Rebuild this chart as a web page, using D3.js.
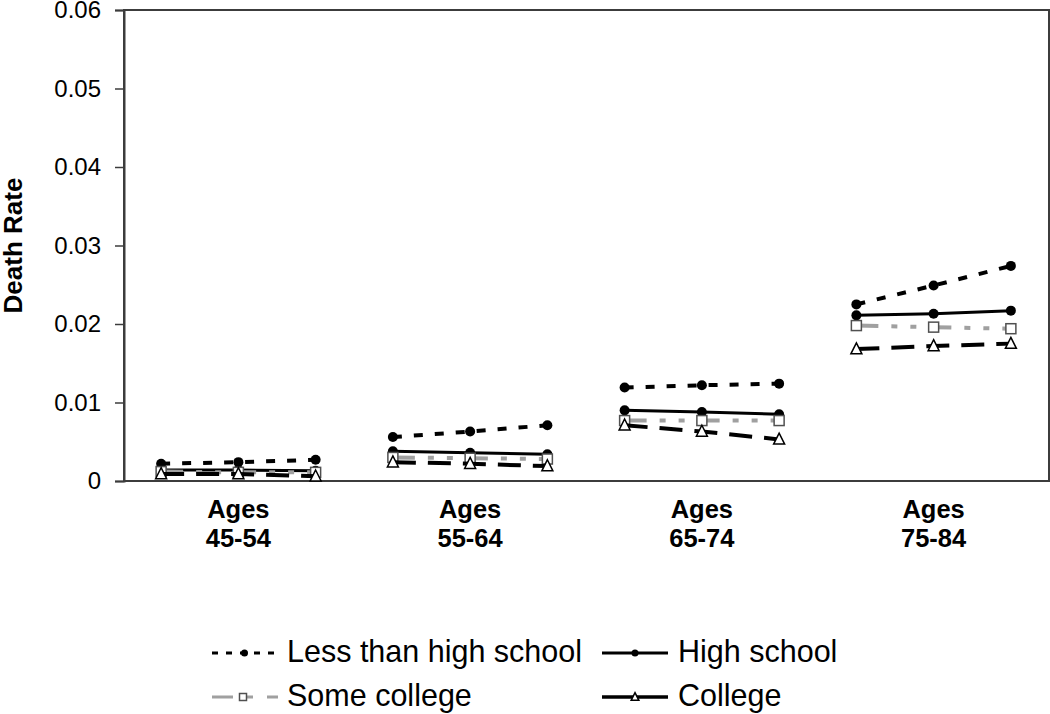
<!DOCTYPE html>
<html>
<head>
<meta charset="utf-8">
<script src="https://cdn.jsdelivr.net/npm/d3@7"></script>
<style>
  html, body { margin: 0; padding: 0; background: #fff; }
  svg { display: block; font-family: "Liberation Sans", Arial, sans-serif; }
</style>
</head>
<body>
<svg id="chart" width="1050" height="714"></svg>
<script>
// ---- data ----
const ageGroups = ["Ages 45-54", "Ages 55-64", "Ages 65-74", "Ages 75-84"];
const periods = ["Period 1", "Period 2", "Period 3"];
const yTicks = [0, 0.01, 0.02, 0.03, 0.04, 0.05, 0.06];
const yTickLabels = ["0", "0.01", "0.02", "0.03", "0.04", "0.05", "0.06"];
const seriesNames = ["Less than high school", "High school", "Some college", "College"];

// values listed group by group, three periods each
const lessThanHighSchool = [0.0022, 0.0024, 0.0027, 0.0056, 0.0063, 0.0071, 0.0119, 0.0122, 0.0124, 0.0225, 0.0249, 0.0274];
const highSchool         = [0.0014, 0.0014, 0.0013, 0.0038, 0.0036, 0.0034, 0.0090, 0.0088, 0.0085, 0.0211, 0.0213, 0.0217];
const someCollege        = [0.0012, 0.0011, 0.0011, 0.0030, 0.0029, 0.0028, 0.0077, 0.0077, 0.0077, 0.0198, 0.0196, 0.0194];
const college            = [0.0009, 0.0009, 0.0006, 0.0024, 0.0022, 0.0019, 0.0071, 0.0063, 0.0053, 0.0168, 0.0172, 0.0175];

// ---- styles ----
const styles = [
  { values: lessThanHighSchool, color: "#000", width: 4, dash: "9,12", legendDash: "6,8", legendWidth: 3, marker: "circle" },
  { values: highSchool,         color: "#000", width: 3, dash: null,  legendDash: null, legendWidth: 3, marker: "circle" },
  { values: someCollege,        color: "#a0a0a0", width: 4, dash: "22,13,6,13,6,13", legendDash: "21,14,6,14", legendWidth: 3, marker: "square" },
  { values: college,            color: "#000", width: 4, dash: "23,12", legendDash: null, legendWidth: 3.5, marker: "triangle" }
];

const svg = d3.select("#chart");
const pLeft = 124, pRight = 1049, pTop = 10, pBottom = 481;
const font = "'Liberation Sans', Arial, sans-serif";

const y = d3.scaleLinear().domain([0, 0.06]).range([pBottom, pTop]);
const xGroup = d3.scaleBand().domain(ageGroups).range([122.5, 1049.5]);
const xInner = d3.scalePoint().domain(periods).range([0, xGroup.bandwidth()]).padding(0.5);

// frame
svg.append("rect")
  .attr("x", pLeft).attr("y", pTop)
  .attr("width", pRight - pLeft).attr("height", pBottom - pTop)
  .attr("fill", "none").attr("stroke", "#3c3c3c").attr("stroke-width", 2);

// y axis
const yAxis = d3.axisLeft(y).tickValues(yTicks)
  .tickFormat((d, i) => yTickLabels[i]).tickSize(9).tickPadding(14);
const yg = svg.append("g").attr("transform", `translate(${pLeft},0)`).call(yAxis);
yg.select(".domain").attr("stroke", "#3c3c3c").attr("stroke-width", 2);
yg.selectAll(".tick line").attr("stroke", "#3c3c3c").attr("stroke-width", 1.5);
yg.selectAll(".tick text").attr("font-size", 24).attr("font-family", font).attr("fill", "#000");

// y title
svg.append("text")
  .attr("transform", `translate(22,${(pTop + pBottom) / 2}) rotate(-90)`)
  .attr("text-anchor", "middle")
  .attr("font-size", 26).attr("font-weight", "bold").attr("font-family", font)
  .text("Death Rate");

// x category labels
ageGroups.forEach(g => {
  const parts = g.split(" ");
  const cx = xGroup(g) + xGroup.bandwidth() / 2;
  const t = svg.append("text").attr("text-anchor", "middle")
    .attr("font-size", 25.5).attr("font-weight", "bold").attr("font-family", font);
  t.append("tspan").attr("x", cx).attr("y", 518).text(parts[0]);
  t.append("tspan").attr("x", cx).attr("y", 547).text(parts[1]);
});

const line = d3.line().x(d => d.x).y(d => d.y);

function drawMarker(g, type, cx, cy, scale) {
  if (type === "circle") {
    g.append("circle").attr("cx", cx).attr("cy", cy).attr("r", 5 * scale).attr("fill", "#000");
  } else if (type === "square") {
    const s = 10 * scale;
    g.append("rect").attr("x", cx - s / 2).attr("y", cy - s / 2).attr("width", s).attr("height", s)
      .attr("fill", "#fff").attr("stroke", "#505050").attr("stroke-width", 1.5);
  } else {
    const w = 11 * scale, h = 10.5 * scale;
    g.append("path")
      .attr("d", `M${cx},${cy - h * 0.6}L${cx + w / 2},${cy + h * 0.45}L${cx - w / 2},${cy + h * 0.45}Z`)
      .attr("fill", "#fff").attr("stroke", "#000").attr("stroke-width", 1.5).attr("stroke-linejoin", "miter");
  }
}

// series
const plot = svg.append("g");
styles.forEach(s => {
  const sg = plot.append("g");
  ageGroups.forEach((g, gi) => {
    const pts = periods.map((p, pi) => ({ x: xGroup(g) + xInner(p), y: y(s.values[gi * 3 + pi]) }));
    sg.append("path").attr("d", line(pts)).attr("fill", "none")
      .attr("stroke", s.color).attr("stroke-width", s.width)
      .attr("stroke-dasharray", s.dash);
    pts.forEach(pt => drawMarker(sg, s.marker, pt.x, pt.y, 1));
  });
});

// legend
const legendPos = [
  { x1: 212, x2: 278, ly: 653, tx: 287, ty: 662 },
  { x1: 602, x2: 668, ly: 653, tx: 678, ty: 662 },
  { x1: 212, x2: 278, ly: 697, tx: 287, ty: 706 },
  { x1: 602, x2: 668, ly: 697, tx: 678, ty: 706 }
];
const markerOffset = [-0.5, 0, -2, 0];
styles.forEach((s, i) => {
  const p = legendPos[i];
  const lg = svg.append("g");
  lg.append("line").attr("x1", p.x1).attr("x2", p.x2).attr("y1", p.ly).attr("y2", p.ly)
    .attr("stroke", s.color).attr("stroke-width", s.legendWidth)
    .attr("stroke-dasharray", s.legendDash);
  drawMarker(lg, s.marker, (p.x1 + p.x2) / 2 + markerOffset[i], p.ly, 0.7);
  lg.append("text").attr("x", p.tx).attr("y", p.ty)
    .attr("font-size", 30.5).attr("font-family", font).attr("fill", "#000")
    .text(seriesNames[i]);
});
</script>
</body>
</html>
